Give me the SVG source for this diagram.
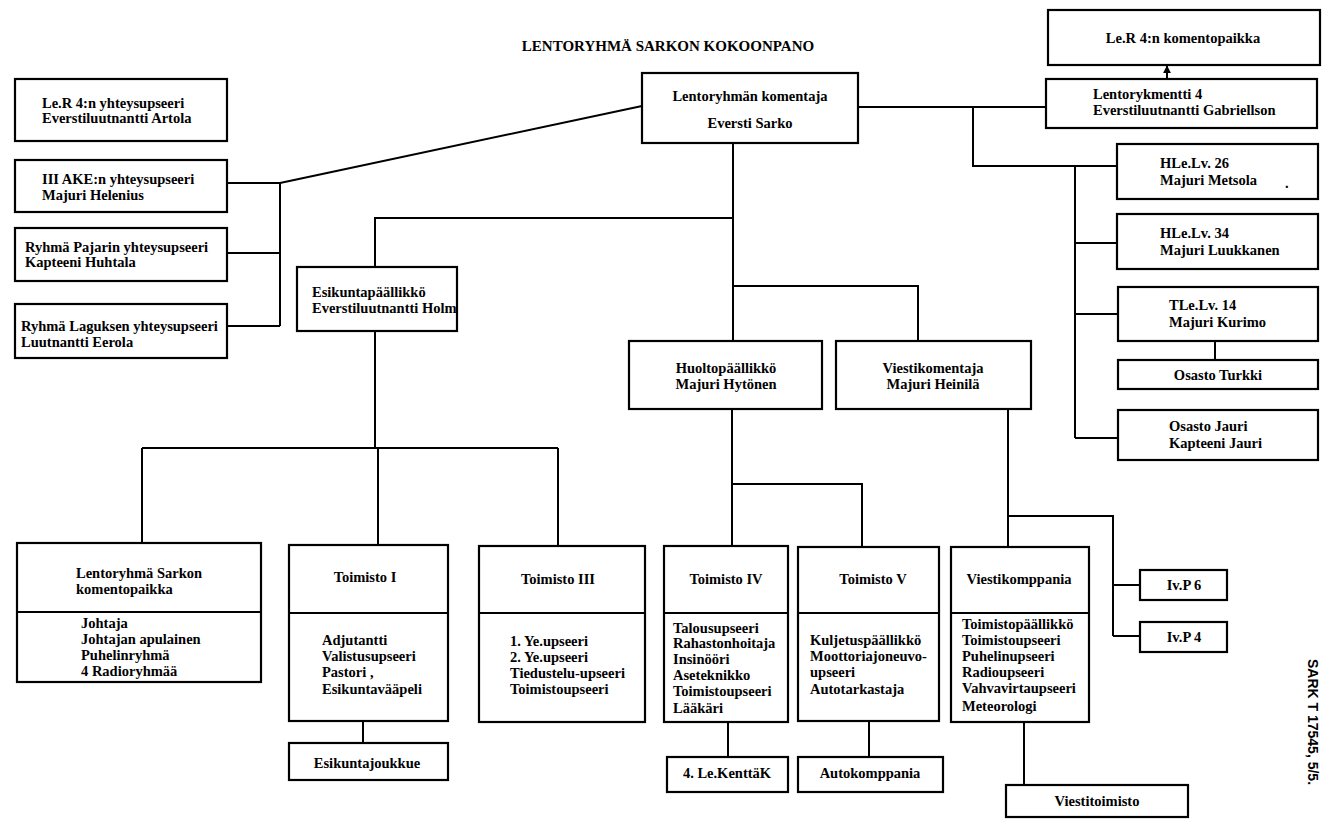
<svg xmlns="http://www.w3.org/2000/svg" width="1324" height="823" viewBox="0 0 1324 823">
<style>
.b{fill:#fff;stroke:#000;stroke-width:2.2}
.d{stroke:#000;stroke-width:2}
.c path{fill:none;stroke:#000;stroke-width:2}
text{font-family:"Liberation Serif","Times New Roman",serif;font-weight:bold;font-size:14.5px;fill:#000}
.m{text-anchor:middle}
</style>
<defs>
<marker id="ah" viewBox="0 0 10 10" refX="9" refY="5" markerWidth="4" markerHeight="4" orient="auto"><path d="M0,0 L10,5 L0,10 z" fill="#000"/></marker>
</defs>
<rect width="1324" height="823" fill="#fff"/>
<text id="title" x="668" y="51" class="m" style="font-size:15px">LENTORYHMÄ SARKON KOKOONPANO</text>

<g class="c" id="connectors">
<path d="M642,106 L280,183"/>
<path d="M227,183 H280 M280,183 V326 M227,253 H280 M227,326 H280"/>
<path d="M858,107 H1046"/>
<path d="M973,107 V166 H1117"/>
<path d="M1075,166 V438 M1075,243 H1117 M1075,314 H1118 M1075,438 H1118"/>
<path d="M1215,341 V360"/>
<path d="M1167,79 V66" marker-end="url(#ah)"/>
<path d="M733,143 V341"/>
<path d="M733,218 H375 V267"/>
<path d="M733,286 H918 V341"/>
<path d="M375,331 V448 M142,448 H558 M142,448 V543 M378,448 V545 M558,448 V546"/>
<path d="M732,409 V546 M732,484 H862 V547"/>
<path d="M1008,409 V547 M1008,516 H1113 V636 M1113,585 H1140 M1113,636 H1140"/>
<path d="M363,721 V743"/>
<path d="M728,722 V757"/>
<path d="M869,721 V757"/>
<path d="M1024,722 V785"/>
</g>

<g id="n_cmd"><rect class="b" x="642" y="73" width="216" height="70"/>
<text x="750" y="101" class="m">Lentoryhmän komentaja</text>
<text x="750" y="128" class="m">Eversti Sarko</text></g>

<g id="n_ler_yht"><rect class="b" x="15" y="79" width="212" height="62"/>
<text x="42" y="108">Le.R 4:n yhteysupseeri</text>
<text x="42" y="123">Everstiluutnantti Artola</text></g>

<g id="n_3ake"><rect class="b" x="15" y="160" width="212" height="52"/>
<text x="42" y="184">III AKE:n yhteysupseeri</text>
<text x="42" y="200">Majuri Helenius</text></g>

<g id="n_pajari"><rect class="b" x="15" y="228" width="212" height="53"/>
<text x="25" y="252">Ryhmä Pajarin yhteysupseeri</text>
<text x="25" y="267">Kapteeni Huhtala</text></g>

<g id="n_lagus"><rect class="b" x="15" y="304" width="212" height="54"/>
<text x="21" y="331">Ryhmä Laguksen yhteysupseeri</text>
<text x="21" y="347">Luutnantti Eerola</text></g>

<g id="n_esik"><rect class="b" x="297" y="267" width="160" height="64"/>
<text x="312" y="297">Esikuntapäällikkö</text>
<text x="312" y="313">Everstiluutnantti Holm</text></g>

<g id="n_lerkp"><rect class="b" x="1048" y="10" width="272" height="55"/>
<text x="1183" y="43" class="m">Le.R 4:n komentopaikka</text></g>

<g id="n_lr4"><rect class="b" x="1046" y="79" width="271" height="49"/>
<text x="1093" y="99">Lentorykmentti 4</text>
<text x="1093" y="115">Everstiluutnantti Gabriellson</text></g>

<g id="n_hlelv26"><rect class="b" x="1117" y="144" width="201" height="55"/>
<text x="1160" y="168">HLe.Lv. 26</text>
<text x="1160" y="185">Majuri Metsola</text>
<text x="1285" y="188">.</text></g>

<g id="n_hlelv34"><rect class="b" x="1117" y="214" width="201" height="55"/>
<text x="1160" y="238">HLe.Lv. 34</text>
<text x="1160" y="255">Majuri Luukkanen</text></g>

<g id="n_tlelv14"><rect class="b" x="1118" y="287" width="200" height="54"/>
<text x="1169" y="310">TLe.Lv. 14</text>
<text x="1169" y="327">Majuri Kurimo</text></g>

<g id="n_turkki"><rect class="b" x="1118" y="360" width="200" height="29"/>
<text x="1218" y="380" class="m">Osasto Turkki</text></g>

<g id="n_jauri"><rect class="b" x="1118" y="410" width="200" height="50"/>
<text x="1169" y="431">Osasto Jauri</text>
<text x="1169" y="448">Kapteeni Jauri</text></g>

<g id="n_huolto"><rect class="b" x="629" y="341" width="193" height="68"/>
<text x="726" y="373" class="m">Huoltopäällikkö</text>
<text x="726" y="389" class="m">Majuri Hytönen</text></g>

<g id="n_viesti"><rect class="b" x="836" y="341" width="195" height="68"/>
<text x="933" y="373" class="m">Viestikomentaja</text>
<text x="933" y="389" class="m">Majuri Heinilä</text></g>

<g id="n_lrkp"><rect class="b" x="17" y="543" width="244" height="139"/>
<line class="d" x1="17" y1="612" x2="261" y2="612"/>
<text x="76" y="578">Lentoryhmä Sarkon</text>
<text x="76" y="594">komentopaikka</text>
<text x="81" y="628">Johtaja</text>
<text x="81" y="644">Johtajan apulainen</text>
<text x="81" y="660">Puhelinryhmä</text>
<text x="81" y="676">4 Radioryhmää</text></g>

<g id="n_t1"><rect class="b" x="289" y="545" width="159" height="176"/>
<line class="d" x1="289" y1="613" x2="448" y2="613"/>
<text x="365" y="582" class="m">Toimisto I</text>
<text x="322" y="645">Adjutantti</text>
<text x="322" y="661">Valistusupseeri</text>
<text x="322" y="677">Pastori  ,</text>
<text x="322" y="694">Esikuntavääpeli</text></g>

<g id="n_esjk"><rect class="b" x="289" y="743" width="159" height="37"/>
<text x="367" y="768" class="m">Esikuntajoukkue</text></g>

<g id="n_t3"><rect class="b" x="479" y="546" width="166" height="176"/>
<line class="d" x1="479" y1="613" x2="645" y2="613"/>
<text x="558" y="584" class="m">Toimisto III</text>
<text x="510" y="646">1. Ye.upseeri</text>
<text x="510" y="662">2. Ye.upseeri</text>
<text x="510" y="678">Tiedustelu-upseeri</text>
<text x="510" y="694">Toimistoupseeri</text></g>

<g id="n_t4"><rect class="b" x="664" y="546" width="124" height="176"/>
<line class="d" x1="664" y1="613" x2="788" y2="613"/>
<text x="726" y="584" class="m">Toimisto IV</text>
<text x="673" y="633">Talousupseeri</text>
<text x="673" y="648">Rahastonhoitaja</text>
<text x="673" y="664">Insinööri</text>
<text x="673" y="680">Aseteknikko</text>
<text x="673" y="696">Toimistoupseeri</text>
<text x="673" y="713">Lääkäri</text></g>

<g id="n_4lek"><rect class="b" x="667" y="757" width="121" height="35"/>
<text x="727" y="778" class="m">4. Le.KenttäK</text></g>

<g id="n_t5"><rect class="b" x="798" y="547" width="141" height="174"/>
<line class="d" x1="798" y1="613" x2="939" y2="613"/>
<text x="873" y="584" class="m">Toimisto V</text>
<text x="810" y="645">Kuljetuspäällikkö</text>
<text x="810" y="661">Moottoriajoneuvo-</text>
<text x="810" y="677">upseeri</text>
<text x="810" y="694">Autotarkastaja</text></g>

<g id="n_autok"><rect class="b" x="798" y="757" width="145" height="35"/>
<text x="870" y="778" class="m">Autokomppania</text></g>

<g id="n_vkomp"><rect class="b" x="951" y="547" width="138" height="175"/>
<line class="d" x1="951" y1="613" x2="1089" y2="613"/>
<text x="1019" y="584" class="m">Viestikomppania</text>
<text x="962" y="629">Toimistopäällikkö</text>
<text x="962" y="645">Toimistoupseeri</text>
<text x="962" y="661">Puhelinupseeri</text>
<text x="962" y="677">Radioupseeri</text>
<text x="962" y="693">Vahvavirtaupseeri</text>
<text x="962" y="711">Meteorologi</text></g>

<g id="n_ivp6"><rect class="b" x="1140" y="570" width="87" height="30"/>
<text x="1184" y="590" class="m">Iv.P 6</text></g>

<g id="n_ivp4"><rect class="b" x="1140" y="622" width="87" height="30"/>
<text x="1184" y="642" class="m">Iv.P 4</text></g>

<g id="n_vtoim"><rect class="b" x="1006" y="785" width="182" height="32"/>
<text x="1097" y="806" class="m">Viestitoimisto</text></g>

<text id="ref" x="1313" y="727" class="m" transform="rotate(90 1313 722)" style="font-family:'Liberation Sans',Arial,sans-serif;font-size:14px">SARK T 17545, 5/5.</text>
</svg>
